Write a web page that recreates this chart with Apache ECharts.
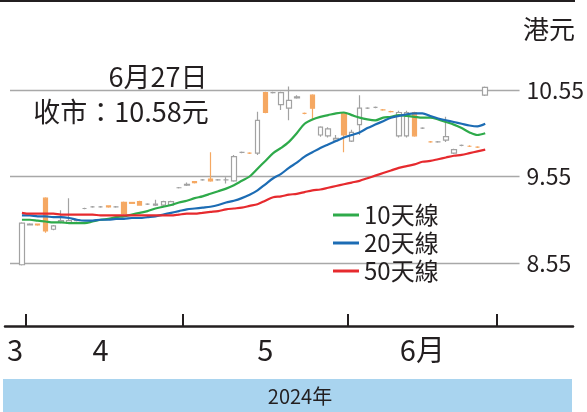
<!DOCTYPE html>
<html>
<head>
<meta charset="utf-8">
<script src="https://cdn.jsdelivr.net/npm/echarts/dist/echarts.min.js"></script>
<style>
  html, body { margin: 0; padding: 0; background: #fff; }
  #chart { width: 587px; height: 412px; }
</style>
</head>
<body>
<div id="chart"></div>
<script>
// trading days, 28 Mar - 28 Jun 2024
const dates = [
  '3/28',
  '4/2', '4/3', '4/5', '4/8', '4/9', '4/10', '4/11', '4/12', '4/15', '4/16',
  '4/17', '4/18', '4/19', '4/22', '4/23', '4/24', '4/25', '4/26', '4/29', '4/30',
  '5/2', '5/3', '5/6', '5/7', '5/8', '5/9', '5/10', '5/13', '5/14', '5/16',
  '5/17', '5/20', '5/21', '5/22', '5/23', '5/24', '5/27', '5/28', '5/29', '5/30', '5/31',
  '6/3', '6/4', '6/5', '6/6', '6/7', '6/11', '6/12', '6/13', '6/14', '6/17',
  '6/18', '6/19', '6/20', '6/21', '6/24', '6/25', '6/26', '6/27', '6/28'
]

// [open, close, low, high]
const candles = [
  [8.53, 9.01, 8.52, 9.02],
  [8.99, 9.00, 8.99, 9.01], [9.00, 8.99, 8.98, 9.00], [9.30, 8.92, 8.90, 9.31], [8.94, 8.98, 8.93, 8.99],
  [9.02, 9.04, 9.01, 9.16], [9.01, 9.04, 9.00, 9.30], [9.04, 9.05, 9.03, 9.06], [9.18, 9.18, 9.17, 9.19],
  [9.20, 9.20, 9.19, 9.21], [9.20, 9.20, 9.19, 9.21], [9.21, 9.20, 9.19, 9.21], [9.20, 9.20, 9.19, 9.21],
  [9.25, 9.12, 9.11, 9.26], [9.25, 9.24, 9.24, 9.25], [9.26, 9.22, 9.22, 9.27], [9.23, 9.23, 9.22, 9.24],
  [9.22, 9.23, 9.21, 9.28], [9.22, 9.26, 9.21, 9.27], [9.22, 9.26, 9.21, 9.27], [9.42, 9.42, 9.41, 9.43],
  [9.45, 9.46, 9.44, 9.48], [9.49, 9.48, 9.47, 9.49], [9.51, 9.51, 9.50, 9.52], [9.52, 9.50, 9.49, 9.83],
  [9.51, 9.51, 9.50, 9.52], [9.51, 9.51, 9.47, 9.54], [9.50, 9.78, 9.49, 9.80], [9.83, 9.83, 9.82, 9.84],
  [9.82, 9.82, 9.81, 9.83], [9.82, 10.20, 9.80, 10.30], [10.52, 10.29, 10.28, 10.53], [10.52, 10.52, 10.51, 10.53],
  [10.38, 10.52, 10.32, 10.53], [10.34, 10.43, 10.20, 10.59], [10.46, 10.47, 10.45, 10.49], [10.28, 10.28, 10.27, 10.29],
  [10.49, 10.34, 10.20, 10.50], [10.03, 10.12, 10.01, 10.13], [10.02, 10.10, 10.00, 10.12], [9.97, 9.99, 9.95, 10.03],
  [10.28, 10.03, 9.83, 10.29],
  [9.96, 10.06, 9.95, 10.09], [10.15, 10.34, 10.03, 10.49], [10.34, 10.34, 10.33, 10.35], [10.35, 10.35, 10.34, 10.36],
  [10.32, 10.32, 10.31, 10.33], [10.30, 10.30, 10.29, 10.31], [10.02, 10.29, 10.00, 10.31], [10.02, 10.29, 10.00, 10.31],
  [10.29, 10.02, 10.01, 10.30], [10.11, 10.11, 10.10, 10.12], [9.95, 9.95, 9.94, 9.96], [9.95, 9.95, 9.94, 9.96],
  [9.97, 10.01, 9.95, 10.24], [9.82, 9.86, 9.81, 9.87], [9.91, 9.91, 9.90, 9.92], [9.90, 9.90, 9.89, 9.91],
  [9.89, 9.89, 9.88, 9.90], [10.49, 10.58, 10.48, 10.59], '-'
]

const ma10 = [
  9.05, 9.05, 9.04, 9.03, 9.02, 9.02, 9.01, 9.01, 9.01, 9.03, 9.05, 9.06, 9.08, 9.09, 9.11, 9.13,
  9.15, 9.18, 9.20, 9.22, 9.25, 9.27, 9.30, 9.32, 9.35, 9.38, 9.41, 9.45, 9.50, 9.55, 9.64, 9.73,
  9.82, 9.88, 9.95, 10.05, 10.16, 10.21, 10.24, 10.26, 10.28, 10.29, 10.26, 10.23, 10.21, 10.20,
  10.23, 10.24, 10.26, 10.25, 10.24, 10.23, 10.23, 10.21, 10.18, 10.15, 10.11, 10.06, 10.03, 10.05, '-'
]
const ma20 = [
  9.10, 9.10, 9.09, 9.09, 9.08, 9.08, 9.07, 9.05, 9.04, 9.04, 9.05, 9.05, 9.06, 9.06, 9.07, 9.07,
  9.08, 9.09, 9.11, 9.13, 9.15, 9.17, 9.18, 9.19, 9.20, 9.22, 9.25, 9.27, 9.30, 9.34, 9.39, 9.46,
  9.53, 9.58, 9.65, 9.71, 9.78, 9.83, 9.88, 9.92, 9.96, 10.00, 10.03, 10.06, 10.11, 10.15,
  10.19, 10.23, 10.25, 10.27, 10.28, 10.28, 10.25, 10.22, 10.20, 10.18, 10.16, 10.14, 10.13, 10.16, '-'
]
const ma50 = [
  9.13, 9.12, 9.12, 9.12, 9.12, 9.11, 9.11, 9.11, 9.11, 9.11, 9.10, 9.10, 9.10, 9.10, 9.10, 9.10,
  9.10, 9.10, 9.10, 9.10, 9.11, 9.12, 9.12, 9.13, 9.14, 9.15, 9.17, 9.18, 9.19, 9.21, 9.23, 9.27,
  9.31, 9.32, 9.34, 9.35, 9.37, 9.39, 9.40, 9.42, 9.44, 9.46, 9.48, 9.50, 9.53, 9.56,
  9.59, 9.62, 9.65, 9.67, 9.69, 9.72, 9.73, 9.75, 9.77, 9.79, 9.80, 9.82, 9.84, 9.86, '-'
]

const seriesNames = ['10天線', '20天線', '50天線']
const monthNames = ['3', '4', '5', '6月']
const yTicks = [8.55, 9.55, 10.55]

const ink = '#231f20'
const narrow = "'Liberation Sans Narrow', 'Noto Sans CJK TC', sans-serif"

// month of each trading day: first day of a month gets a tick, the middle day gets the label
const months = dates.map(d => +d.split('/')[0])
const monthStart = months.map((m, i) => i > 0 && m !== months[i - 1])
const labelAt = {}
let order = 0
months.forEach((m, i) => {
  if (i === 0 || m !== months[i - 1]) {
    let last = i
    while (last + 1 < months.length && months[last + 1] === m) last++
    labelAt[Math.floor((i + last) / 2)] = monthNames[order++]
  }
})

const chart = echarts.init(document.getElementById('chart'))

const yMin = yTicks[0]
const yMax = yTicks[yTicks.length - 1]
const yStep = yTicks[1] - yTicks[0]

const option = {
  animation: false,
  grid: [
    { left: 18, right: 90, top: 90, height: 173 },   // candles + MAs
    { left: 5, right: 14, top: 90, height: 173 },    // long x axis line
    { left: 10, right: 67, top: 90, height: 173 }    // gridlines + price labels
  ],
  xAxis: [
    {
      type: 'category',
      gridIndex: 0,
      data: dates,
      offset: 63,
      axisLine: { show: false },
      axisTick: {
        show: true,
        inside: true,
        length: 12,
        interval: (idx) => monthStart[idx],
        lineStyle: { color: ink, width: 2 }
      },
      axisLabel: {
        interval: (idx) => labelAt[idx] !== undefined,
        formatter: (val, idx) => idx === 0 ? '{m|' + labelAt[idx] + '}' : labelAt[idx],
        margin: 9,
        color: ink,
        fontSize: 29,
        fontFamily: narrow,
        rich: {
          m: { fontSize: 29, fontFamily: narrow, color: ink, padding: [0, 14, 0, 0] }
        }
      },
      splitLine: { show: false }
    },
    {
      type: 'value',
      gridIndex: 1,
      offset: 63,
      axisLine: { show: true, lineStyle: { color: ink, width: 2.5 } },
      axisTick: { show: false },
      axisLabel: { show: false },
      splitLine: { show: false }
    },
    {
      type: 'value',
      gridIndex: 2,
      show: false
    }
  ],
  yAxis: [
    { type: 'value', gridIndex: 0, min: yMin, max: yMax, interval: yStep, show: false },
    { type: 'value', gridIndex: 1, min: yMin, max: yMax, interval: yStep, show: false },
    {
      type: 'value',
      gridIndex: 2,
      position: 'right',
      min: yMin,
      max: yMax,
      interval: yStep,
      axisLine: { show: false },
      axisTick: { show: false },
      axisLabel: {
        margin: 7,
        color: ink,
        fontSize: 23,
        fontFamily: narrow,
        formatter: (v) => v.toFixed(2)
      },
      splitLine: { lineStyle: { color: '#a8a8a8', width: 1.3 } }
    }
  ],
  legend: {
    data: seriesNames,
    orient: 'vertical',
    left: 328,
    top: 198,
    itemWidth: 26,
    itemHeight: 3,
    itemGap: 4,
    icon: 'rect',
    textStyle: { color: ink, fontSize: 24, fontFamily: narrow }
  },
  series: [
    {
      type: 'candlestick',
      xAxisIndex: 0,
      yAxisIndex: 0,
      data: candles,
      barWidth: 5,
      clip: false,
      itemStyle: {
        color: '#ffffff',
        color0: '#f5a862',
        borderColor: '#a2a2a2',
        borderColor0: '#f5a862',
        borderWidth: 1.2
      }
    },
    {
      name: seriesNames[0], type: 'line', xAxisIndex: 0, yAxisIndex: 0,
      data: ma10, showSymbol: false, smooth: 0.3,
      itemStyle: { color: '#2eaa4a' }, lineStyle: { color: '#2eaa4a', width: 2.2 }
    },
    {
      name: seriesNames[1], type: 'line', xAxisIndex: 0, yAxisIndex: 0,
      data: ma20, showSymbol: false, smooth: 0.3,
      itemStyle: { color: '#1c6cb4' }, lineStyle: { color: '#1c6cb4', width: 2.2 }
    },
    {
      name: seriesNames[2], type: 'line', xAxisIndex: 0, yAxisIndex: 0,
      data: ma50, showSymbol: false, smooth: 0.3,
      itemStyle: { color: '#e62a2e' }, lineStyle: { color: '#e62a2e', width: 2.2 }
    }
  ],
  graphic: [
    { type: 'rect', shape: { x: 0, y: 0, width: 575, height: 2 }, style: { fill: ink } },
    { type: 'rect', shape: { x: 3, y: 379, width: 569, height: 33 }, style: { fill: '#a9d4ef' } },
    {
      type: 'text', x: 300, y: 396,
      style: { text: '2024年', font: '20px ' + narrow, fill: ink, align: 'center', verticalAlign: 'middle', textAlign: 'center', textVerticalAlign: 'middle' }
    },
    {
      type: 'text', x: 549, y: 29,
      style: { text: '港元', font: "26px 'Noto Sans CJK TC', sans-serif", fill: ink, align: 'center', verticalAlign: 'middle', textAlign: 'center', textVerticalAlign: 'middle' }
    },
    {
      type: 'text', x: 158, y: 77,
      style: { text: '6月27日', font: '27px ' + narrow, fill: ink, align: 'center', verticalAlign: 'middle', textAlign: 'center', textVerticalAlign: 'middle' }
    },
    {
      type: 'text', x: 121, y: 112,
      style: { text: '收市：10.58元', font: '27px ' + narrow, fill: ink, align: 'center', verticalAlign: 'middle', textAlign: 'center', textVerticalAlign: 'middle' }
    }
  ]
}

chart.setOption(option)
window.addEventListener('resize', () => chart.resize())
</script>
</body>
</html>
